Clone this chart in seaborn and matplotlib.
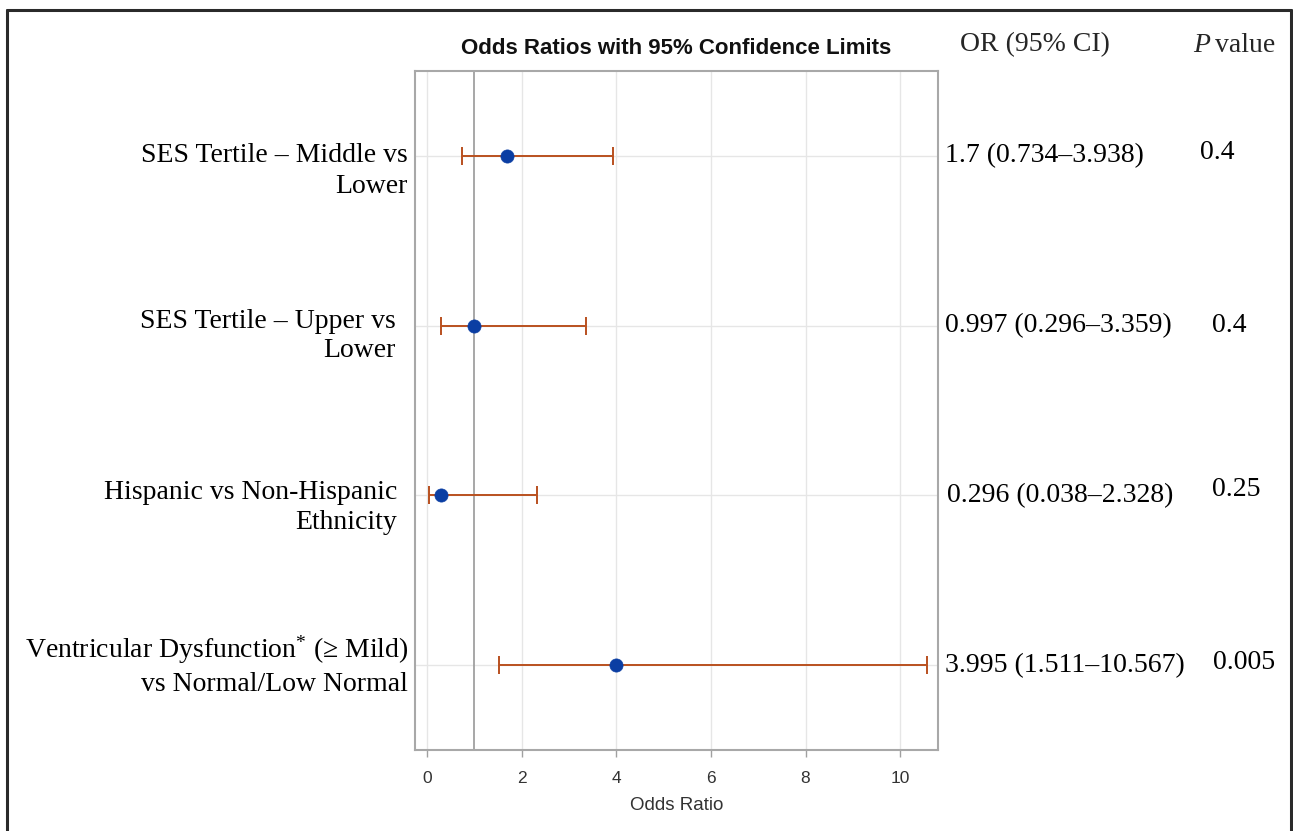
import matplotlib
matplotlib.use("Agg")
import matplotlib.pyplot as plt
import matplotlib.transforms as mtransforms
from matplotlib.lines import Line2D
import seaborn as sns
import pandas as pd
import numpy as np

# ---- data ----
labels = [
    "SES Tertile \u2013 Middle vs\nLower",
    "SES Tertile \u2013 Upper vs\nLower",
    "Hispanic vs Non-Hispanic\nEthnicity",
    "Ventricular Dysfunction$^{*}$ (\u2265 Mild)\nvs Normal/Low Normal",
]
odds = [1.7, 0.997, 0.296, 3.995]
lower = [0.734, 0.296, 0.038, 1.511]
upper = [3.938, 3.359, 2.328, 10.567]
or_text = [
    "1.7 (0.734\u20133.938)",
    "0.997 (0.296\u20133.359)",
    "0.296 (0.038\u20132.328)",
    "3.995 (1.511\u201310.567)",
]
p_text = ["0.4", "0.4", "0.25", "0.005"]
x_ticks = [0, 2, 4, 6, 8, 10]

df = pd.DataFrame({"row": np.arange(len(odds)), "OR": odds, "lo": lower, "hi": upper})

# ---- layout (pixels) ----
W, H = 1293, 831
label_right_px = [408, 396, 397, 408]
label_dy_px = [15, 10, 12, 0]
label_spacing = [1.28, 1.2, 1.3, 1.28]
or_left_px = [945, 945, 947, 945]
p_left_px = [1200, 1212, 1212, 1213]
p_dy_px = [-3, 0, -6, -3]

sns.set_theme(style="white")
plt.rcParams["mathtext.fontset"] = "custom"
plt.rcParams["mathtext.it"] = "Liberation Serif:italic"
plt.rcParams["mathtext.rm"] = "Liberation Serif"
plt.rcParams["mathtext.default"] = "rm"
serif = ["Liberation Serif", "DejaVu Serif"]
sans = ["Liberation Sans", "DejaVu Sans"]

fig = plt.figure(figsize=(W / 100, H / 100), dpi=100)
ax = fig.add_axes([415 / W, 1 - 750 / H, (938 - 415) / W, (750 - 71) / H])

# grid lines
for xv in x_ticks:
    ax.axvline(xv, color="#e6e6e6", lw=1.0, zorder=0)
for r in df["row"]:
    ax.axhline(r, color="#e6e6e6", lw=1.0, zorder=0)
ax.axvline(1, color="#a0a0a0", lw=1.3, zorder=1)

ax.errorbar(df["OR"], df["row"],
            xerr=[df["OR"] - df["lo"], df["hi"] - df["OR"]],
            fmt="none", ecolor="#b9501f", elinewidth=1.4, capsize=6.5,
            capthick=1.4, zorder=2)
sns.scatterplot(data=df, x="OR", y="row", ax=ax, color="#0b3ea3",
                s=90, edgecolor="#0b3ea3", linewidth=0.5, zorder=3, legend=False)

ax.set_xlim(-0.254, 10.80)
ax.set_ylim(3.5, -0.5)
ax.set_xticks(x_ticks)
ax.set_xticklabels([str(t) for t in x_ticks], fontfamily=sans, fontsize=12.5, color="#333333")
ax.set_yticks([])
ax.set_ylabel("")
ax.set_xlabel("Odds Ratio", fontfamily=sans, fontsize=13.5, color="#333333", labelpad=8)
ax.tick_params(axis="x", which="both", bottom=True, length=5, width=1, color="#a0a0a0", pad=10)
for sp in ax.spines.values():
    sp.set_color("#a8a8a8")
    sp.set_linewidth(1.5)

ax.set_title("Odds Ratios with 95% Confidence Limits", fontfamily=sans,
             fontsize=16, fontweight="bold", color="#111111", pad=12)

# row labels and table columns
trans_fig_y_data = mtransforms.blended_transform_factory(fig.transFigure, ax.transData)
for i, r in enumerate(df["row"]):
    ax.annotate(labels[i], xy=(label_right_px[i] / W, r), xycoords=trans_fig_y_data,
                xytext=(0, -label_dy_px[i] * 0.72), textcoords="offset points",
                ha="right", va="center", fontfamily=serif, fontsize=20,
                linespacing=label_spacing[i], color="black", annotation_clip=False)
    ax.annotate(or_text[i], xy=(or_left_px[i] / W, r), xycoords=trans_fig_y_data,
                ha="left", va="center", fontfamily=serif, fontsize=20,
                color="black", annotation_clip=False)
    ax.annotate(p_text[i], xy=(p_left_px[i] / W, r), xycoords=trans_fig_y_data,
                xytext=(0, -p_dy_px[i] * 0.72), textcoords="offset points",
                ha="left", va="center", fontfamily=serif, fontsize=20,
                color="black", annotation_clip=False)

fig.text(960 / W, 1 - 45 / H, "OR (95% CI)", ha="left", va="center",
         fontfamily=serif, fontsize=20)
fig.text(1193 / W, 1 - 45 / H, "P", ha="left", va="center",
         fontfamily=serif, fontstyle="italic", fontsize=20)
fig.text(1215 / W, 1 - 45 / H, "value", ha="left", va="center",
         fontfamily=serif, fontsize=20)

# outer frame (no bottom edge)
fc = "#2a2a2a"
fig.add_artist(Line2D([7 / W, 7 / W], [0, 1 - 10 / H], transform=fig.transFigure, color=fc, lw=2.2))
fig.add_artist(Line2D([7 / W, 1291 / W], [1 - 10 / H, 1 - 10 / H], transform=fig.transFigure, color=fc, lw=2.2))
fig.add_artist(Line2D([1291 / W, 1291 / W], [0, 1 - 10 / H], transform=fig.transFigure, color=fc, lw=2.2))

fig.savefig("out.png", dpi=100)
